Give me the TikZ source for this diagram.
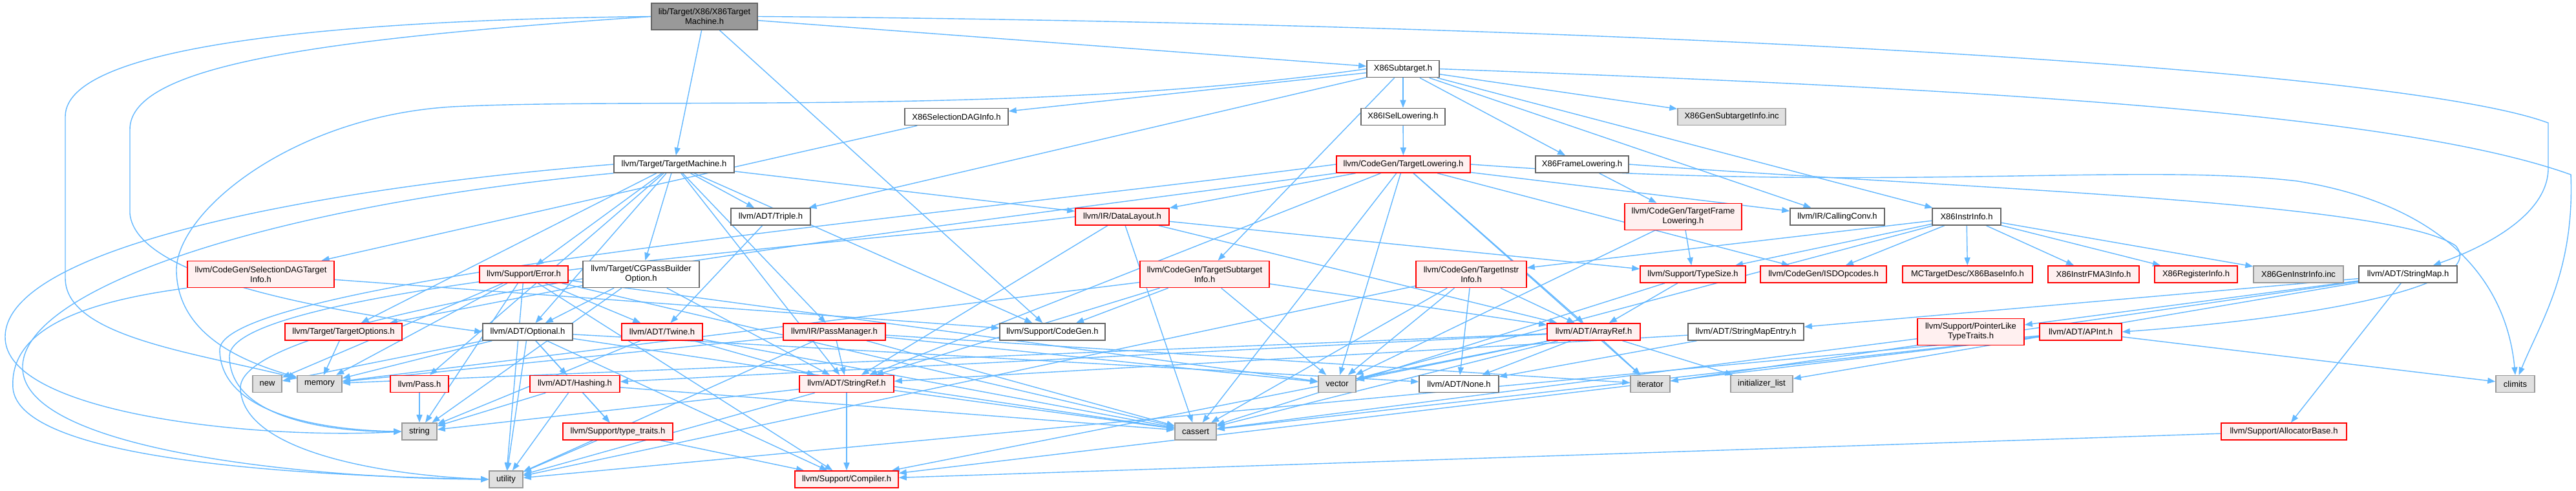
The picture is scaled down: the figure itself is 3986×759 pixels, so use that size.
\documentclass[tikz,border=0pt]{standalone}
\usepackage{fontspec}
\setmainfont{Liberation Sans}
\usetikzlibrary{arrows.meta}
\definecolor{edgec}{HTML}{63B8FF}
\definecolor{cgrayb}{HTML}{666666}
\definecolor{cgrayc}{HTML}{999999}
\definecolor{cleaf}{HTML}{E0E0E0}
\definecolor{cpink}{HTML}{FFF0F0}
\definecolor{cred}{HTML}{FF0000}
\pgfdeclarelayer{bg}
\pgfdeclarelayer{edges}
\pgfsetlayers{bg,edges,main}
\tikzset{
  box/.style={rectangle, inner sep=0pt, minimum height=26pt, align=center,
    font=\fontsize{13}{15}\selectfont, line width=1.6pt, text=black},
  wbox/.style={box, fill=white, draw=cgrayb},
  rbox/.style={box, fill=cpink, draw=cred},
  gbox/.style={box, fill=cleaf, draw=cgrayc},
  rootbox/.style={box, fill=cgrayc, draw=cgrayb},
  two/.style={minimum height=41pt},
  dep/.style={draw=edgec, line width=1.4pt, -{Triangle[length=12pt,width=9pt]}},
}
\begin{document}
\begin{tikzpicture}[x=1pt,y=-1pt]
\useasboundingbox (0,0) rectangle (3986,759);
\begin{pgfonlayer}{bg}
\fill[white] (0,0) rectangle (3986,759);
\end{pgfonlayer}
% row 1
\node[rootbox,two,minimum width=164pt] (root) at (1090,25.5) {lib/Target/X86/X86Target\\Machine.h};
% row 2
\node[wbox,minimum width=112pt] (sub) at (2171,106.5) {X86Subtarget.h};
% row 3
\node[wbox,minimum width=160pt] (sdi) at (1480,180.5) {X86SelectionDAGInfo.h};
\node[wbox,minimum width=130pt] (isel) at (2171,180.5) {X86ISelLowering.h};
\node[gbox,minimum width=167pt] (gensub) at (2679.5,180.5) {X86GenSubtargetInfo.inc};
% row 4
\node[wbox,minimum width=186pt] (tm) at (1043,254) {llvm/Target/TargetMachine.h};
\node[rbox,minimum width=207pt] (tl) at (2171.5,254) {llvm/CodeGen/TargetLowering.h};
\node[wbox,minimum width=144pt] (fl) at (2448,254) {X86FrameLowering.h};
% row 5
\node[wbox,minimum width=123pt] (triple) at (1192.5,335) {llvm/ADT/Triple.h};
\node[rbox,minimum width=145pt] (dl) at (1736.5,335) {llvm/IR/DataLayout.h};
\node[rbox,two,minimum width=181pt] (tfl) at (2604.5,335) {llvm/CodeGen/TargetFrame\\Lowering.h};
\node[wbox,minimum width=146pt] (cc) at (2843,335) {llvm/IR/CallingConv.h};
\node[wbox,minimum width=106pt] (xii) at (3043,335) {X86InstrInfo.h};
% row 6
\node[rbox,two,minimum width=227pt] (sdti) at (403.5,424) {llvm/CodeGen/SelectionDAGTarget\\Info.h};
\node[rbox,minimum width=137pt] (err) at (810.5,424) {llvm/Support/Error.h};
\node[wbox,two,minimum width=180pt] (cgpbo) at (992,424) {llvm/Target/CGPassBuilder\\Option.h};
\node[rbox,two,minimum width=200pt] (tsi) at (1864,424) {llvm/CodeGen/TargetSubtarget\\Info.h};
\node[rbox,two,minimum width=171pt] (tii) at (2276.5,424) {llvm/CodeGen/TargetInstr\\Info.h};
\node[rbox,minimum width=163pt] (tsz) at (2619.5,424) {llvm/Support/TypeSize.h};
\node[rbox,minimum width=195pt] (isd) at (2821.5,424) {llvm/CodeGen/ISDOpcodes.h};
\node[rbox,minimum width=201pt] (bi) at (3044.5,424) {MCTargetDesc/X86BaseInfo.h};
\node[rbox,minimum width=141pt] (fma) at (3239.5,424) {X86InstrFMA3Info.h};
\node[rbox,minimum width=128pt] (ri) at (3398,424) {X86RegisterInfo.h};
\node[gbox,minimum width=139pt] (genii) at (3556.5,424) {X86GenInstrInfo.inc};
\node[wbox,minimum width=152pt] (smap) at (3726,424) {llvm/ADT/StringMap.h};
% row 7
\node[rbox,minimum width=181pt] (topt) at (531.5,513) {llvm/Target/TargetOptions.h};
\node[wbox,minimum width=139pt] (opt) at (816.5,513) {llvm/ADT/Optional.h};
\node[rbox,minimum width=125pt] (twine) at (1024.5,513) {llvm/ADT/Twine.h};
\node[rbox,minimum width=158pt] (pm) at (1291,513) {llvm/IR/PassManager.h};
\node[wbox,minimum width=163pt] (cgen) at (1628.5,513) {llvm/Support/CodeGen.h};
\node[rbox,minimum width=144pt] (aref) at (2466,513) {llvm/ADT/ArrayRef.h};
\node[wbox,minimum width=179pt] (sme) at (2701.5,513) {llvm/ADT/StringMapEntry.h};
\node[rbox,two,minimum width=165pt] (pltt) at (3049.5,513) {llvm/Support/PointerLike\\TypeTraits.h};
\node[rbox,minimum width=127pt] (apint) at (3219.5,513) {llvm/ADT/APInt.h};
% row 8
\node[gbox,minimum width=45pt] (nw) at (413.5,593.5) {new};
\node[gbox,minimum width=69pt] (mem) at (494.5,593.5) {memory};
\node[rbox,minimum width=90pt] (pass) at (649,593.5) {llvm/Pass.h};
\node[rbox,minimum width=139pt] (hash) at (889.5,593.5) {llvm/ADT/Hashing.h};
\node[rbox,minimum width=146pt] (sref) at (1310,593.5) {llvm/ADT/StringRef.h};
\node[gbox,minimum width=58pt] (vec) at (2069,593.5) {vector};
\node[wbox,minimum width=123pt] (none) at (2257.5,593.5) {llvm/ADT/None.h};
\node[gbox,minimum width=61pt] (iter) at (2553.5,593.5) {iterator};
\node[gbox,minimum width=96pt] (il) at (2726,593.5) {initializer\_list};
\node[gbox,minimum width=60pt] (clim) at (3892,593.5) {climits};
% row 9
\node[gbox,minimum width=54pt] (str) at (649,667) {string};
\node[rbox,minimum width=170pt] (tt) at (956,667) {llvm/Support/type\_traits.h};
\node[gbox,minimum width=64pt] (cass) at (1850,667) {cassert};
\node[rbox,minimum width=194pt] (ab) at (3534,667) {llvm/Support/AllocatorBase.h};
% row 10
\node[gbox,minimum width=52pt] (util) at (783,741) {utility};
\node[rbox,minimum width=160pt] (comp) at (1310,741) {llvm/Support/Compiler.h};

\begin{pgfonlayer}{edges}
\foreach \a/\b in {
  root/sub, root/cgen, root/tm,
  sub/fl, sub/isel, sub/xii, sub/sdi, sub/triple, sub/tsi, sub/cc, sub/gensub,
  sdi/sdti, isel/tl, fl/tfl,
  tm/opt, tm/sref, tm/triple, tm/dl, tm/pm, tm/pass, tm/cgen, tm/err, tm/cgpbo, tm/topt,
  triple/twine,
  dl/aref, dl/sref, dl/tsz, dl/cass,
  tl/dl, tl/cc, tl/isd, tl/aref, tl/sref, tl/cass, tl/iter, tl/vec,
  tfl/tsz, tfl/vec,
  tii/aref, tii/none, tii/vec, tii/cass, tii/util,
  tsz/aref, tsz/cass,
  tsi/aref, tsi/sref, tsi/cgen, tsi/mem, tsi/vec,
  xii/tii, xii/tsz, xii/isd, xii/bi, xii/fma, xii/ri, xii/genii, xii/vec,
  sdti/cgen,
  err/nw, err/mem, err/str, err/util, err/vec, err/cass, err/comp, err/twine,
  cgpbo/opt, cgpbo/sref, cgpbo/topt, cgpbo/str,
  topt/mem,
  opt/hash, opt/none, opt/comp, opt/tt, opt/cass, opt/mem, opt/nw, opt/util,
  twine/sref, twine/cass, twine/str,
  pm/sref, pm/cass, pm/iter, pm/mem, pm/util, pm/vec,
  pass/str,
  hash/tt, hash/cass, hash/str, hash/util,
  sref/comp, sref/cass, sref/str, sref/util,
  aref/hash, aref/none, aref/comp, aref/cass, aref/il, aref/iter, aref/mem, aref/vec,
  sme/sref, sme/none,
  smap/sme, smap/ab, smap/pltt, smap/il, smap/iter,
  pltt/cass,
  apint/comp, apint/cass, apint/clim, apint/util,
  tt/comp, tt/util,
  ab/comp}
  \draw[dep] (\a) -- (\b);
% routed connectors
\draw[dep] (root.east) .. controls (2400,35) and (3700,100) .. (3943,190) -- (3943,260) .. controls (3943,330) and (3850,380) .. (smap);
\draw[dep] (root.west) .. controls (500,60) and (201,100) .. (201,200) -- (201,330) .. controls (210,430) and (500,480) .. (opt.west);
\draw[dep] (root.west) .. controls (600,30) and (101,60) .. (101,180) -- (101,430) .. controls (101,520) and (300,545) .. (mem);
\draw[dep] (sub.west) .. controls (1600,180) and (1000,150) .. (700,165) .. controls (450,180) and (270,330) .. (273,420) .. controls (276,520) and (380,560) .. (mem);
\draw[dep] (sub.east) .. controls (3000,135) and (3700,170) .. (3978,270) .. controls (3984,420) and (3930,500) .. (clim);
\draw[dep] (fl.east) .. controls (3000,290) and (3700,310) .. (3800,380) .. controls (3850,440) and (3600,490) .. (apint.east);
\draw[dep] (tl.east) .. controls (2900,300) and (3300,250) .. (3555,280) .. controls (3800,320) and (3880,450) .. (clim.north);
\draw[dep] (tm.west) .. controls (500,290) and (10,380) .. (8,520) .. controls (5,640) and (400,680) .. (str.west);
\draw[dep] (tm.south west) .. controls (400,320) and (30,450) .. (35,570) .. controls (40,700) and (500,740) .. (util.west);
\draw[dep] (sdti.south west) .. controls (100,470) and (15,520) .. (20,600) .. controls (30,710) and (450,735) .. (util.west);
\draw[dep] (tl.west) .. controls (1500,330) and (345,430) .. (340,540) .. controls (340,640) and (500,665) .. (str.west);
\draw[dep] (dl.west) .. controls (1300,380) and (360,440) .. (355,550) .. controls (355,650) and (520,668) .. (str.west);
\draw[dep] (tl.south west) .. controls (1400,360) and (370,470) .. (372,600) .. controls (375,700) and (600,735) .. (util.west);
\end{pgfonlayer}
\end{tikzpicture}
\end{document}
